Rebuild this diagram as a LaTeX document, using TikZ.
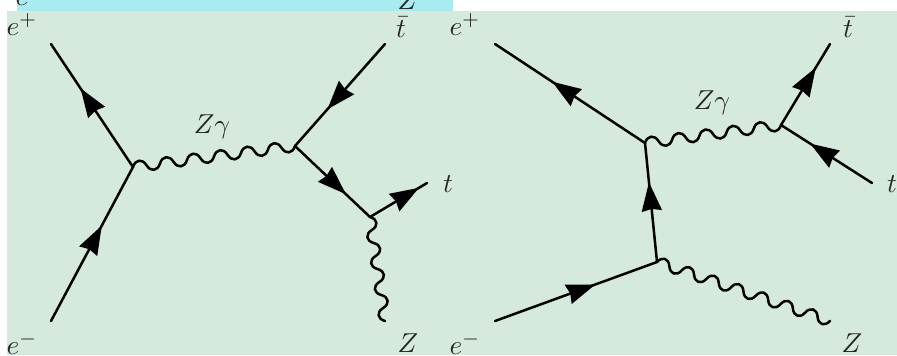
\documentclass[tikz,border=0pt]{standalone}
\usepackage{xcolor}
\usepackage{tikz}
\usetikzlibrary{arrows.meta,decorations.markings}
\definecolor{sheetblue}{HTML}{A8ECF0}
\definecolor{sheetgreen}{HTML}{D5EADC}

\pgfdeclaredecoration{softwave}{setup}{
	\state{setup}[
		width=0pt,
		next state=lobes,
		persistent precomputation={\pgfmathparse{\pgfdecoratedpathlength/round(\pgfdecoratedpathlength/\pgfdecorationsegmentlength)}\global\let\wavelen\pgfmathresult}
	]{}
	\state{lobes}[
		width=\wavelen pt,
		switch if less than=0.5*\pgfdecorationsegmentlength to last
	]{
		\pgfpathcurveto{\pgfpoint{0.12*\wavelen pt}{1.33*\pgfdecorationsegmentamplitude}}{\pgfpoint{0.38*\wavelen pt}{1.33*\pgfdecorationsegmentamplitude}}{\pgfpoint{0.5*\wavelen pt}{0pt}}
		\pgfpathcurveto{\pgfpoint{0.62*\wavelen pt}{-1.33*\pgfdecorationsegmentamplitude}}{\pgfpoint{0.88*\wavelen pt}{-1.33*\pgfdecorationsegmentamplitude}}{\pgfpoint{\wavelen pt}{0pt}}
	}
	\state{last}[width=0pt,next state=final]{}
	\state{final}{\pgfpathlineto{\pgfpointdecoratedpathlast}}
}

\begin{document}
\begin{tikzpicture}[
	x=0.4pt,
	y=-0.4pt,
	line width=1pt,
	lbl/.style={inner sep=0pt,text=black!85,font=\fontsize{10.95}{13}\selectfont},
	fermion/.style={
		line cap=round,
		decoration={markings,mark=at position #1 with {\arrow{Stealth[length=11.5pt,width=8pt,inset=0.8pt]}}},
		postaction={decorate}
	},
	boson/.style={
		line cap=round,
		line join=round,
		decorate,
		decoration={softwave,segment length=10.9pt,amplitude=2.2pt}
	}
	]
	
	\useasboundingbox (0,0) rectangle (897,355);
	\fill[sheetblue] (17,0) rectangle (453,11);
	\node[lbl] (oldE) at (22,0) {$e$};
	\node[lbl] (oldZ) at (408,0) {$Z$};
	\fill[sheetgreen] (7,11) rectangle (897,355);
	
	\coordinate (ep) at (51,44);
	\coordinate (em) at (51,321);
	\coordinate (tbar) at (385,44);
	\coordinate (t) at (427,183);
	\coordinate (z) at (385,321);
	\coordinate (v1) at (133,167);
	\coordinate (v2) at (295,146);
	\coordinate (v3) at (370,217);
	
	\node[lbl] (epL) at (22,24) {$e^+$};
	\node[lbl] (emL) at (22,343) {$e^-$};
	\node[lbl] (tbarL) at (401,27) {$\bar{t}$};
	\node[lbl] (tL) at (448,184) {$t$};
	\node[lbl] (zL) at (408,343) {$Z$};
	\node[lbl] (zgL) at (212,127) {$Z\gamma$};
	
	\draw[fermion=0.64] (v1) -- (ep);
	\draw[fermion=0.62] (em) -- (v1);
	\draw[boson] (v1) -- (v2);
	\draw[fermion=0.64] (tbar) -- (v2);
	\draw[fermion=0.68] (v2) -- (v3);
	\draw[fermion=0.86] (v3) -- (t);
	\draw[boson] (v3) -- (z);
	
	\coordinate (epR) at (495,44);
	\coordinate (emR) at (495,321);
	\coordinate (tbarR) at (830,44);
	\coordinate (tR) at (872,183);
	\coordinate (zR) at (830,321);
	\coordinate (v4) at (645,143);
	\coordinate (v5) at (781,125);
	\coordinate (v6) at (657,262);
	
	\node[lbl] (epRL) at (465,24) {$e^+$};
	\node[lbl] (emRL) at (465,343) {$e^-$};
	\node[lbl] (tbarRL) at (848,27) {$\bar{t}$};
	\node[lbl] (tRL) at (892,184) {$t$};
	\node[lbl] (zRL) at (852,343) {$Z$};
	\node[lbl] (zgRL) at (712,103) {$Z\gamma$};
	
	\draw[fermion=0.62] (v4) -- (epR);
	\draw[boson] (v4) -- (v5);
	\draw[fermion=0.71] (v5) -- (tbarR);
	\draw[fermion=0.68] (tR) -- (v5);
	\draw[fermion=0.67] (v6) -- (v4);
	\draw[fermion=0.62] (emR) -- (v6);
	\draw[boson] (v6) -- (zR);
	
\end{tikzpicture}
\end{document}
